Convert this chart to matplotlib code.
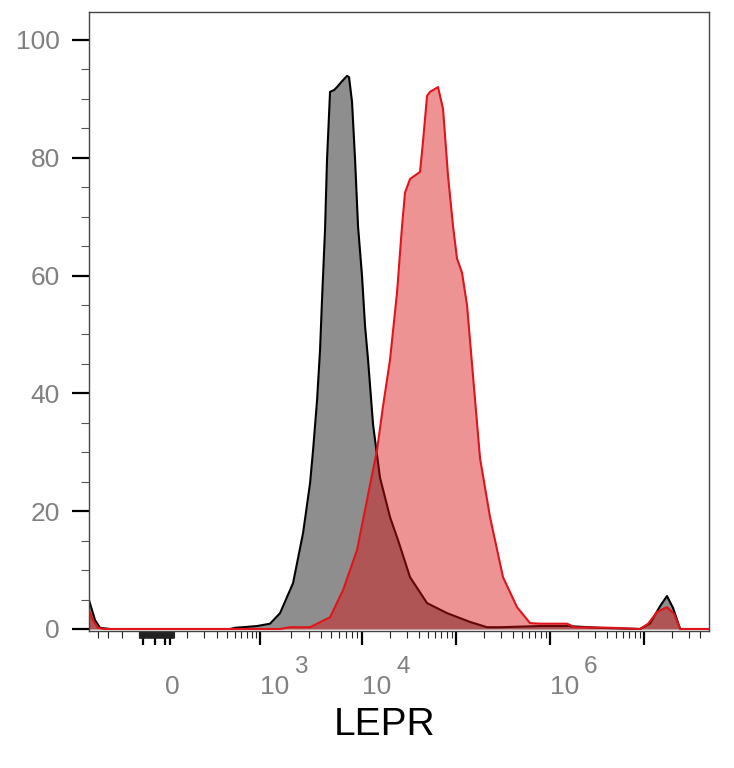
import numpy as np
import matplotlib
matplotlib.use("Agg")
import matplotlib.pyplot as plt

# --- data (x = LEPR intensity, y = % of max) ---
control_x = [-503, -465, -430, -377, -287, 438, 505, 923, 1256, 1576, 2114, 2650,
             3104, 3321, 3634, 3885, 4064, 4348, 4548, 4866, 5324, 5696, 6373,
             7133, 7462, 7982, 8540, 9136, 10000, 10770, 11590, 13100, 15530,
             19860, 24150, 32430, 49190, 80200, 141000, 214000, 294000, 784000,
             1.52e6, 3.41e6, 9.1e6, 1.16e7, 1.49e7, 1.76e7, 2.04e7, 2.43e7, 4.93e7]
control_y = [4.9, 3.2, 1.5, 0.2, 0.0, 0.0, 0.2, 0.5, 0.9, 2.7, 7.8, 16.3,
             24.8, 30.4, 38.9, 47.4, 56.0, 67.9, 79.8, 91.2, 91.5, 92.0, 93.0,
             93.9, 93.7, 89.5, 79.8, 68.4, 59.9, 51.4, 45.7, 34.7, 25.7,
             19.0, 15.1, 8.8, 4.4, 2.7, 1.2, 0.3, 0.3, 0.5,
             0.5, 0.2, 0.0, 0.9, 3.9, 5.6, 3.6, 0.0, 0.0]

lepr_x = [-503, -454, -398, -330, 1576, 1978, 3104, 4866, 6520, 8933, 11300,
          14450, 16720, 19860, 23570, 26650, 28690, 32430, 36640, 41420, 44550,
          49190, 52950, 64400, 72800, 82300, 93000, 102500, 115900, 131000,
          151700, 180200, 230200, 316600, 446700, 614000, 784000, 1.52e6,
          1.85e6, 4.69e6, 9.1e6, 1.11e7, 1.38e7, 1.76e7, 2.09e7, 2.43e7, 4.93e7]
lepr_y = [3.2, 1.5, 0.2, 0.0, 0.0, 0.3, 0.3, 2.0, 6.6, 13.4, 21.9,
          30.4, 37.8, 45.7, 57.1, 68.4, 74.1, 76.4, 77.0, 77.6, 82.7,
          90.5, 91.2, 92.0, 88.3, 76.9, 68.4, 62.9, 60.5, 55.0,
          43.0, 29.0, 19.0, 8.8, 3.7, 1.0, 0.9, 0.9,
          0.3, 0.2, 0.0, 0.9, 2.9, 3.7, 2.6, 0.0, 0.0]

x_major = [0, 1e3, 1e4, 1e5, 1e6, 1e7]
x_major_labels = ["0", "10", "10", "", "10", ""]
x_exponents = {1e3: "3", 1e4: "4", 1e6: "6"}
y_major = [0, 20, 40, 60, 80, 100]

# biexponential-like axis: arcsinh, with the 0..10^4 part stretched a bit
W = 160.0
U_KNOTS = [-20.0, 0.0, np.arcsinh(1e3 / W), np.arcsinh(1e4 / W), 30.0]
P_KNOTS = [165 - 20 * 40.8, 165.0, 260.0, 362.0,
           362 + (30 - np.arcsinh(1e4 / W)) * 40.8]


def fwd(x):
    u = np.arcsinh(np.asarray(x, dtype=float) / W)
    return np.interp(u, U_KNOTS, P_KNOTS)


def inv(p):
    u = np.interp(np.asarray(p, dtype=float), P_KNOTS, U_KNOTS)
    return W * np.sinh(u)


plt.rcParams["font.family"] = ["Liberation Sans", "DejaVu Sans"]

fig = plt.figure(figsize=(7.34, 7.68), dpi=100)
ax = fig.add_axes([89 / 734, 1 - 631 / 768, 620 / 734, 619 / 768])
ax.set_xscale("function", functions=(fwd, inv))

# control (grey), then LEPR (red, see-through)
ax.fill_between(control_x, control_y, 0, color="#8e8e8e", linewidth=0, zorder=1)
ax.plot(control_x, control_y, color="black", linewidth=1.5, zorder=2)
ax.fill_between(lepr_x, lepr_y, 0, color="#d81010", alpha=0.45, linewidth=0, zorder=3)
ax.plot(lepr_x, lepr_y, color="#e0141a", linewidth=1.5, zorder=4)

ax.set_xlim(-503, 4.93e7)
ax.set_ylim(-0.34, 104.75)

# x ticks
cluster_major = [-90, -40, 20]
cluster_minor = list(range(-110, 40, 2))
x_minor = [-400, -300, -200] + list(range(100, 1000, 100)) + cluster_minor
for k in range(3, 8):
    top = 5 if k == 7 else 10
    x_minor += [m * 10 ** k for m in range(2, top)]
ax.set_xticks(x_major + cluster_major)
ax.set_xticklabels(x_major_labels + [""] * len(cluster_major))
ax.set_xticks(x_minor, minor=True)
for lbl in ax.get_xticklabels():
    lbl.set_horizontalalignment("left")

ax.set_yticks(y_major)
ax.set_yticks(np.arange(0, 101, 5), minor=True)

ax.tick_params(axis="x", which="major", direction="out", length=10, width=1.6,
               color="black", labelsize=19, labelcolor="#808080", pad=22)
ax.tick_params(axis="x", which="minor", direction="out", length=5, width=0.8,
               color="#222222")
ax.tick_params(axis="y", which="major", direction="out", length=12, width=1.6,
               color="black", labelsize=19, labelcolor="#808080", pad=9)
ax.tick_params(axis="y", which="minor", direction="out", length=6, width=0.8,
               color="#555555")

for val, e in x_exponents.items():
    ax.annotate(e, xy=(val, 0), xycoords=("data", "axes fraction"),
                xytext=(24.5, -30.5), textcoords="offset points",
                ha="left", va="baseline", fontsize=17.5, color="#808080")

for side in ["left", "right", "top", "bottom"]:
    ax.spines[side].set_color("#444444")
    ax.spines[side].set_linewidth(1.0)

ax.set_xlabel("LEPR", fontsize=28, color="black")
ax.xaxis.set_label_coords(0.476, -0.122)

fig.savefig("out.png", dpi=100)
